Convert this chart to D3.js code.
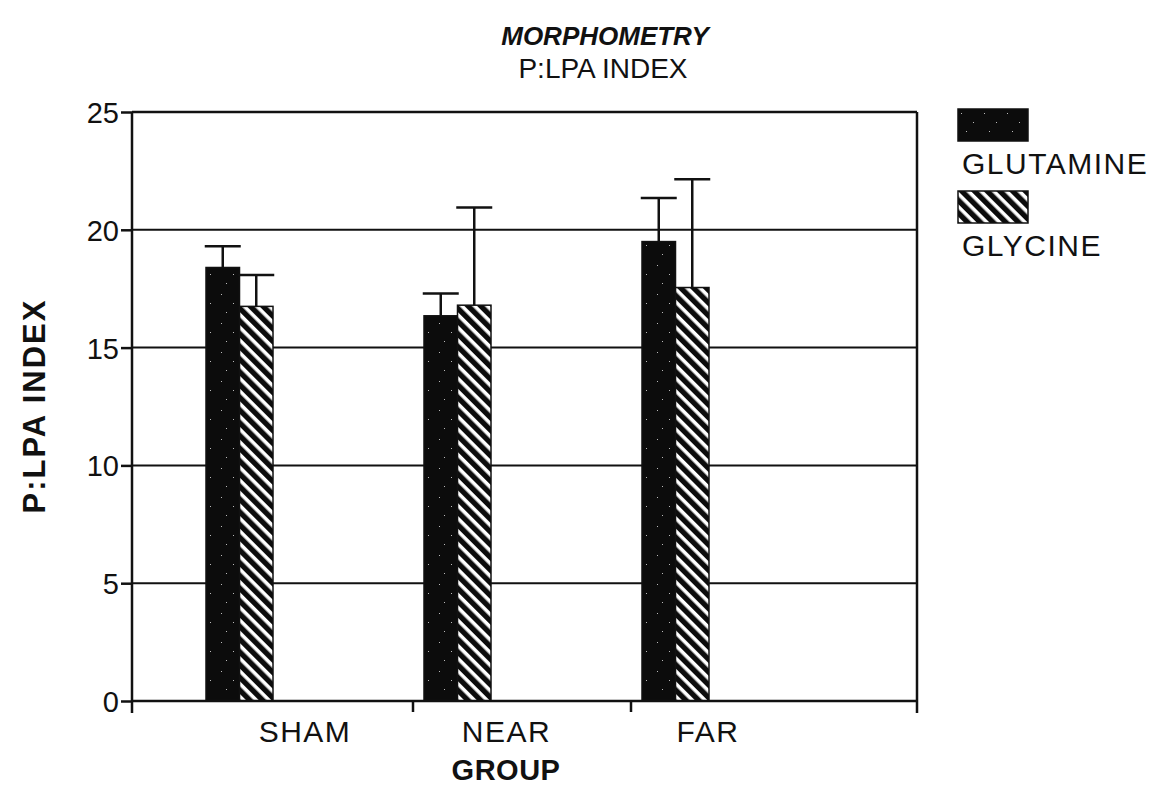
<!DOCTYPE html>
<html>
<head>
<meta charset="utf-8">
<script src="https://cdn.jsdelivr.net/npm/d3@7"></script>
<style>
    body { margin: 0; background: #fff; }
    text { font-family: "Liberation Sans", Arial, sans-serif; fill: #111; }
</style>
</head>
<body>
<svg id="chart"></svg>
<script>
const groups = ["SHAM", "NEAR", "FAR"];
const series = ["GLUTAMINE", "GLYCINE"];
const glutamine = [18.4, 16.35, 19.5];
const glutamineErr = [0.9, 0.95, 1.85];
const glycine = [16.75, 16.8, 17.55];
const glycineErr = [1.33, 4.15, 4.6];
const yTicks = [0, 5, 10, 15, 20, 25];

const width = 1169, height = 787;
const plot = { left: 132, right: 917, top: 112, bottom: 701 };

const svg = d3.select("#chart").attr("width", width).attr("height", height);

const defs = svg.append("defs");

// speckled dark fill for glutamine
const speck = defs.append("pattern")
    .attr("id", "speck")
    .attr("patternUnits", "userSpaceOnUse")
    .attr("width", 23).attr("height", 29);
speck.append("rect").attr("width", 23).attr("height", 29).attr("fill", "#0c0c0c");
[[3, 4], [15, 13], [8, 22]].forEach(p => {
    speck.append("rect").attr("x", p[0]).attr("y", p[1])
        .attr("width", 1).attr("height", 1).attr("fill", "#bbb");
});

// diagonal hatch for glycine
const hatch = defs.append("pattern")
    .attr("id", "hatch")
    .attr("patternUnits", "userSpaceOnUse")
    .attr("width", 9).attr("height", 9)
    .attr("patternTransform", "rotate(45)");
hatch.append("rect").attr("width", 9).attr("height", 9).attr("fill", "#0c0c0c");
hatch.append("rect").attr("x", 0).attr("y", 0).attr("width", 9).attr("height", 3.6).attr("fill", "#fff");

const fills = { GLUTAMINE: "url(#speck)", GLYCINE: "url(#hatch)" };

const y = d3.scaleLinear().domain([0, 25]).range([plot.bottom, plot.top]);
const x = d3.scaleBand().domain(groups).range([195, 849]);
const xSub = d3.scaleBand().domain(series).range([11, 78]);
const xLabel = d3.scalePoint().domain(groups).range([305, 708]);

const rows = groups.map((g, i) => ({
    group: g,
    bars: [
        { key: "GLUTAMINE", value: glutamine[i], err: glutamineErr[i] },
        { key: "GLYCINE", value: glycine[i], err: glycineErr[i] }
    ]
}));

// gridlines
svg.append("g").selectAll("line")
    .data(yTicks.filter(t => t > 0))
    .join("line")
    .attr("x1", plot.left).attr("x2", plot.right)
    .attr("y1", d => y(d)).attr("y2", d => y(d))
    .attr("stroke", "#111").attr("stroke-width", 2);

// bars
const g = svg.append("g").selectAll("g")
    .data(rows)
    .join("g")
    .attr("transform", d => `translate(${x(d.group)},0)`);

g.selectAll("rect")
    .data(d => d.bars)
    .join("rect")
    .attr("x", d => xSub(d.key))
    .attr("y", d => y(d.value))
    .attr("width", xSub.bandwidth())
    .attr("height", d => y(0) - y(d.value))
    .attr("fill", d => fills[d.key])
    .attr("stroke", "#111").attr("stroke-width", 1.5);

// error bars
g.selectAll("line.err")
    .data(d => d.bars)
    .join("line")
    .attr("class", "err")
    .attr("x1", d => xSub(d.key) + xSub.bandwidth() / 2)
    .attr("x2", d => xSub(d.key) + xSub.bandwidth() / 2)
    .attr("y1", d => y(d.value))
    .attr("y2", d => y(d.value + d.err))
    .attr("stroke", "#111").attr("stroke-width", 2.5);

g.selectAll("line.cap")
    .data(d => d.bars)
    .join("line")
    .attr("class", "cap")
    .attr("x1", d => xSub(d.key) + xSub.bandwidth() / 2 - 18)
    .attr("x2", d => xSub(d.key) + xSub.bandwidth() / 2 + 18)
    .attr("y1", d => y(d.value + d.err))
    .attr("y2", d => y(d.value + d.err))
    .attr("stroke", "#111").attr("stroke-width", 2.5);

// y axis
const yAxis = svg.append("g")
    .attr("transform", `translate(${plot.left},0)`)
    .call(d3.axisLeft(y).tickValues(yTicks).tickSize(11).tickPadding(2).tickSizeOuter(0));
yAxis.select(".domain").remove();
yAxis.selectAll(".tick line").attr("stroke", "#111").attr("stroke-width", 2.5);
yAxis.selectAll(".tick text")
    .style("font-size", "29px").attr("fill", "#111")
    .attr("dy", "0.36em");

// frame: left, right, top, bottom
svg.append("line")
    .attr("x1", plot.left).attr("x2", plot.left)
    .attr("y1", plot.top).attr("y2", plot.bottom + 12)
    .attr("stroke", "#111").attr("stroke-width", 2.5);
svg.append("line")
    .attr("x1", plot.right).attr("x2", plot.right)
    .attr("y1", plot.top).attr("y2", plot.bottom + 12)
    .attr("stroke", "#111").attr("stroke-width", 2.5);
svg.append("line")
    .attr("x1", plot.left).attr("x2", plot.right)
    .attr("y1", plot.top).attr("y2", plot.top)
    .attr("stroke", "#111").attr("stroke-width", 2.5);
svg.append("line")
    .attr("x1", plot.left).attr("x2", plot.right)
    .attr("y1", plot.bottom).attr("y2", plot.bottom)
    .attr("stroke", "#111").attr("stroke-width", 2.5);

// x ticks between groups
svg.append("g").selectAll("line")
    .data(groups.slice(1))
    .join("line")
    .attr("x1", d => x(d)).attr("x2", d => x(d))
    .attr("y1", plot.bottom).attr("y2", plot.bottom + 11)
    .attr("stroke", "#111").attr("stroke-width", 2.5);

// x category labels
svg.append("g").selectAll("text")
    .data(groups)
    .join("text")
    .attr("x", d => xLabel(d))
    .attr("y", 742)
    .attr("text-anchor", "middle")
    .style("font-size", "30px")
    .style("letter-spacing", "1.5px")
    .text(d => d);

// axis titles
svg.append("text")
    .attr("x", 506).attr("y", 780)
    .attr("text-anchor", "middle")
    .style("font-size", "29px").style("font-weight", "bold")
    .style("letter-spacing", "0.5px")
    .text("GROUP");

svg.append("text")
    .attr("transform", "translate(45,406) rotate(-90)")
    .attr("text-anchor", "middle")
    .style("font-size", "31px").style("font-weight", "bold")
    .style("letter-spacing", "2px")
    .text("P:LPA INDEX");

// chart title
svg.append("text")
    .attr("x", 605).attr("y", 45)
    .attr("text-anchor", "middle")
    .style("font-size", "26px").style("font-weight", "bold").style("font-style", "italic")
    .text("MORPHOMETRY");
svg.append("text")
    .attr("x", 603).attr("y", 78)
    .attr("text-anchor", "middle")
    .style("font-size", "28px")
    .text("P:LPA INDEX");

// legend
const legend = svg.append("g").selectAll("g")
    .data(series)
    .join("g")
    .attr("transform", (d, i) => `translate(958,${109 + i * 82})`);
legend.append("rect")
    .attr("width", 70).attr("height", 32)
    .attr("fill", d => fills[d])
    .attr("stroke", "#111").attr("stroke-width", 1.5);
legend.append("text")
    .attr("x", 4).attr("y", 65)
    .style("font-size", "30px")
    .style("letter-spacing", "1.5px")
    .text(d => d);
</script>
</body>
</html>
